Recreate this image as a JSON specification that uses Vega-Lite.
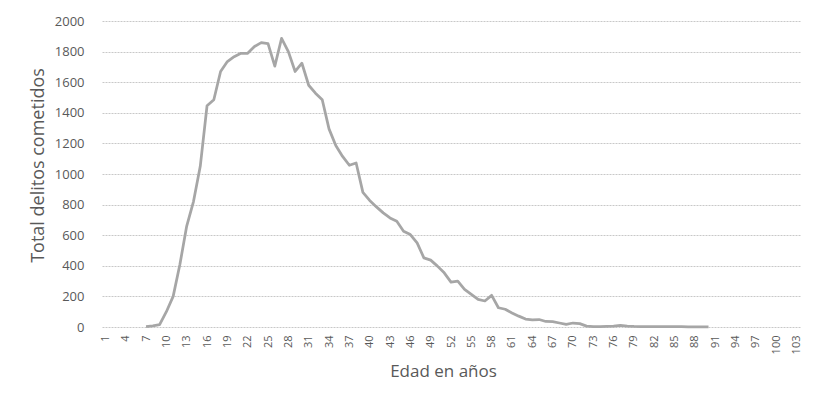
{
  "$schema": "https://vega.github.io/schema/vega-lite/v6.json",
  "width": 698,
  "height": 306,
  "autosize": {"type": "none"},
  "padding": {"left": 102, "top": 21, "right": 21, "bottom": 68},
  "background": "white",
  "config": {
    "view": {"stroke": null},
    "font": "Open Sans",
    "axis": {"labelColor": "#595959", "titleColor": "#595959", "labelFont": "Open Sans", "titleFont": "Open Sans", "titleFontWeight": "normal"}
  },
  "data": {
    "values": [
      {"edad": 7, "total": 3}, {"edad": 8, "total": 8}, {"edad": 9, "total": 15}, {"edad": 10, "total": 100},
      {"edad": 11, "total": 200}, {"edad": 12, "total": 410}, {"edad": 13, "total": 660}, {"edad": 14, "total": 820},
      {"edad": 15, "total": 1050}, {"edad": 16, "total": 1446}, {"edad": 17, "total": 1485}, {"edad": 18, "total": 1670},
      {"edad": 19, "total": 1735}, {"edad": 20, "total": 1767}, {"edad": 21, "total": 1789}, {"edad": 22, "total": 1789},
      {"edad": 23, "total": 1833}, {"edad": 24, "total": 1859}, {"edad": 25, "total": 1852}, {"edad": 26, "total": 1705},
      {"edad": 27, "total": 1887}, {"edad": 28, "total": 1800}, {"edad": 29, "total": 1670}, {"edad": 30, "total": 1724},
      {"edad": 31, "total": 1580}, {"edad": 32, "total": 1528}, {"edad": 33, "total": 1485}, {"edad": 34, "total": 1295},
      {"edad": 35, "total": 1186}, {"edad": 36, "total": 1115}, {"edad": 37, "total": 1057}, {"edad": 38, "total": 1072},
      {"edad": 39, "total": 880}, {"edad": 40, "total": 827}, {"edad": 41, "total": 785}, {"edad": 42, "total": 746},
      {"edad": 43, "total": 713}, {"edad": 44, "total": 691}, {"edad": 45, "total": 626}, {"edad": 46, "total": 604},
      {"edad": 47, "total": 550}, {"edad": 48, "total": 452}, {"edad": 49, "total": 437}, {"edad": 50, "total": 398},
      {"edad": 51, "total": 354}, {"edad": 52, "total": 293}, {"edad": 53, "total": 300}, {"edad": 54, "total": 246},
      {"edad": 55, "total": 213}, {"edad": 56, "total": 180}, {"edad": 57, "total": 170}, {"edad": 58, "total": 207},
      {"edad": 59, "total": 126}, {"edad": 60, "total": 116}, {"edad": 61, "total": 92}, {"edad": 62, "total": 71},
      {"edad": 63, "total": 52}, {"edad": 64, "total": 47}, {"edad": 65, "total": 49}, {"edad": 66, "total": 36},
      {"edad": 67, "total": 35}, {"edad": 68, "total": 26}, {"edad": 69, "total": 17}, {"edad": 70, "total": 26},
      {"edad": 71, "total": 22}, {"edad": 72, "total": 6}, {"edad": 73, "total": 3}, {"edad": 74, "total": 3},
      {"edad": 75, "total": 4}, {"edad": 76, "total": 5}, {"edad": 77, "total": 11}, {"edad": 78, "total": 6},
      {"edad": 79, "total": 4}, {"edad": 80, "total": 3}, {"edad": 81, "total": 3}, {"edad": 82, "total": 2},
      {"edad": 83, "total": 2}, {"edad": 84, "total": 2}, {"edad": 85, "total": 2}, {"edad": 86, "total": 2},
      {"edad": 87, "total": 1}, {"edad": 88, "total": 1}, {"edad": 89, "total": 1}, {"edad": 90, "total": 1}
    ]
  },
  "mark": {"type": "line", "color": "#a6a6a6", "strokeWidth": 2.75, "strokeJoin": "round"},
  "encoding": {
    "x": {
      "field": "edad",
      "type": "ordinal",
      "sort": "ascending",
      "scale": {
        "type": "point",
        "padding": 0.5,
        "domain": [1,2,3,4,5,6,7,8,9,10,11,12,13,14,15,16,17,18,19,20,21,22,23,24,25,26,27,28,29,30,31,32,33,34,35,36,37,38,39,40,41,42,43,44,45,46,47,48,49,50,51,52,53,54,55,56,57,58,59,60,61,62,63,64,65,66,67,68,69,70,71,72,73,74,75,76,77,78,79,80,81,82,83,84,85,86,87,88,89,90,91,92,93,94,95,96,97,98,99,100,101,102,103]
      },
      "axis": {
        "title": "Edad en años",
        "values": [1,4,7,10,13,16,19,22,25,28,31,34,37,40,43,46,49,52,55,58,61,64,67,70,73,76,79,82,85,88,91,94,97,100,103],
        "labelAngle": -90,
        "labelAlign": "right",
        "labelBaseline": "middle",
        "labelFontSize": 11,
        "labelPadding": 8,
        "ticks": false,
        "domain": false,
        "grid": false,
        "titleFontSize": 17,
        "titlePadding": 10,
        "titleX": 341
      }
    },
    "y": {
      "field": "total",
      "type": "quantitative",
      "scale": {"domain": [0, 2000], "nice": false},
      "axis": {
        "title": "Total delitos cometidos",
        "format": "d",
        "values": [0,200,400,600,800,1000,1200,1400,1600,1800,2000],
        "labelFontSize": 13,
        "ticks": false,
        "domain": false,
        "labelPadding": 18,
        "titleFontSize": 18,
        "titlePadding": 7,
        "titleY": 144,
        "grid": true,
        "gridColor": "#c8c8c8",
        "gridDash": [2, 1],
        "gridWidth": 1
      }
    }
  }
}
